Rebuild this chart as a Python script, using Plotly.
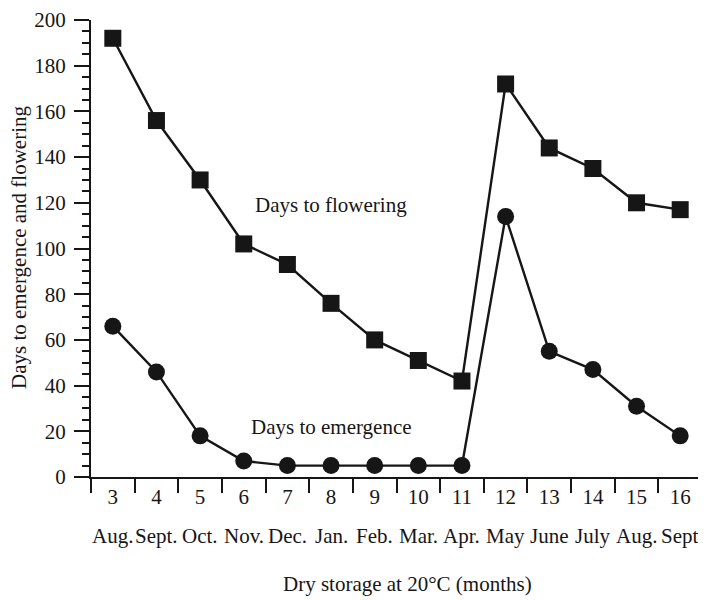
import plotly.graph_objects as go

months_num = ["3", "4", "5", "6", "7", "8", "9", "10", "11", "12", "13", "14", "15", "16"]
month_names = ["Aug.", "Sept.", "Oct.", "Nov.", "Dec.", "Jan.", "Feb.", "Mar.", "Apr.",
               "May", "June", "July", "Aug.", "Sept"]
days_flowering = [192, 156, 130, 102, 93, 76, 60, 51, 42, 172, 144, 135, 120, 117]
days_emergence = [66, 46, 18, 7, 5, 5, 5, 5, 5, 114, 55, 47, 31, 18]

FONT = "Liberation Serif, Times New Roman, serif"
INK = "#161616"
FS = 21

# page body adds an 8px offset; size the figure so it fits the 706x600 window
OFF = 8
W, H = 706 - OFF, 600 - OFF
ML, MT = 91 - OFF, 20 - OFF
MR = W - (702 - OFF)
MB = H - (477 - OFF)
PW = W - ML - MR
PH = H - MT - MB


def py(screen_y):
    """paper y from a screen pixel row"""
    return ((MT + PH) - (screen_y - OFF)) / PH


def px(screen_x):
    return ((screen_x - OFF) - ML) / PW


fig = go.Figure()
fig.add_trace(go.Scatter(
    x=months_num, y=days_flowering, mode="lines+markers",
    line=dict(color=INK, width=2.4),
    marker=dict(symbol="square", size=17, color=INK),
    name="Days to flowering", showlegend=False, cliponaxis=False))
fig.add_trace(go.Scatter(
    x=months_num, y=days_emergence, mode="lines+markers",
    line=dict(color=INK, width=2.4),
    marker=dict(symbol="circle", size=17, color=INK),
    name="Days to emergence", showlegend=False, cliponaxis=False))

annotations = []
for i, name in enumerate(month_names):
    annotations.append(dict(x=i, xref="x", y=py(536), yref="paper", text=name,
                            showarrow=False, font=dict(family=FONT, size=FS, color=INK),
                            xanchor="center", yanchor="middle"))

annotations += [
    dict(x=5, xref="x", y=119, yref="y", text="Days to flowering", showarrow=False,
         font=dict(family=FONT, size=FS, color=INK), xanchor="center", yanchor="middle"),
    dict(x=5, xref="x", y=22, yref="y", text="Days to emergence", showarrow=False,
         font=dict(family=FONT, size=FS, color=INK), xanchor="center", yanchor="middle"),
    dict(x=px(407), xref="paper", y=py(584), yref="paper",
         text="Dry storage at 20°C (months)", showarrow=False,
         font=dict(family=FONT, size=FS, color=INK), xanchor="center", yanchor="middle"),
    dict(x=px(19), xref="paper", y=py(247), yref="paper",
         text="Days to emergence and flowering", showarrow=False, textangle=-90,
         font=dict(family=FONT, size=FS, color=INK), xanchor="center", yanchor="middle"),
]

fig.update_layout(
    width=W, height=H,
    margin=dict(l=ML, r=MR, t=MT, b=MB, autoexpand=False),
    paper_bgcolor="white", plot_bgcolor="white",
    font=dict(family=FONT, size=FS, color=INK),
    annotations=annotations,
    xaxis=dict(
        type="category", range=[-0.5, 13.5], tickson="boundaries",
        ticks="outside", ticklen=14, tickwidth=2, tickcolor=INK,
        showline=True, linewidth=2, linecolor=INK, showgrid=False, zeroline=False,
        tickfont=dict(family=FONT, size=FS, color=INK), fixedrange=True),
    yaxis=dict(
        range=[0, 200], tick0=0, dtick=20,
        ticks="outside", ticklen=15, tickwidth=2, tickcolor=INK,
        minor=dict(dtick=5, ticks="outside", ticklen=7, tickwidth=1.5, tickcolor=INK, showgrid=False),
        showline=True, linewidth=2, linecolor=INK, showgrid=False, zeroline=False,
        ticklabelstandoff=4,
        tickfont=dict(family=FONT, size=FS, color=INK), fixedrange=True),
)

fig.write_html("out.html")
